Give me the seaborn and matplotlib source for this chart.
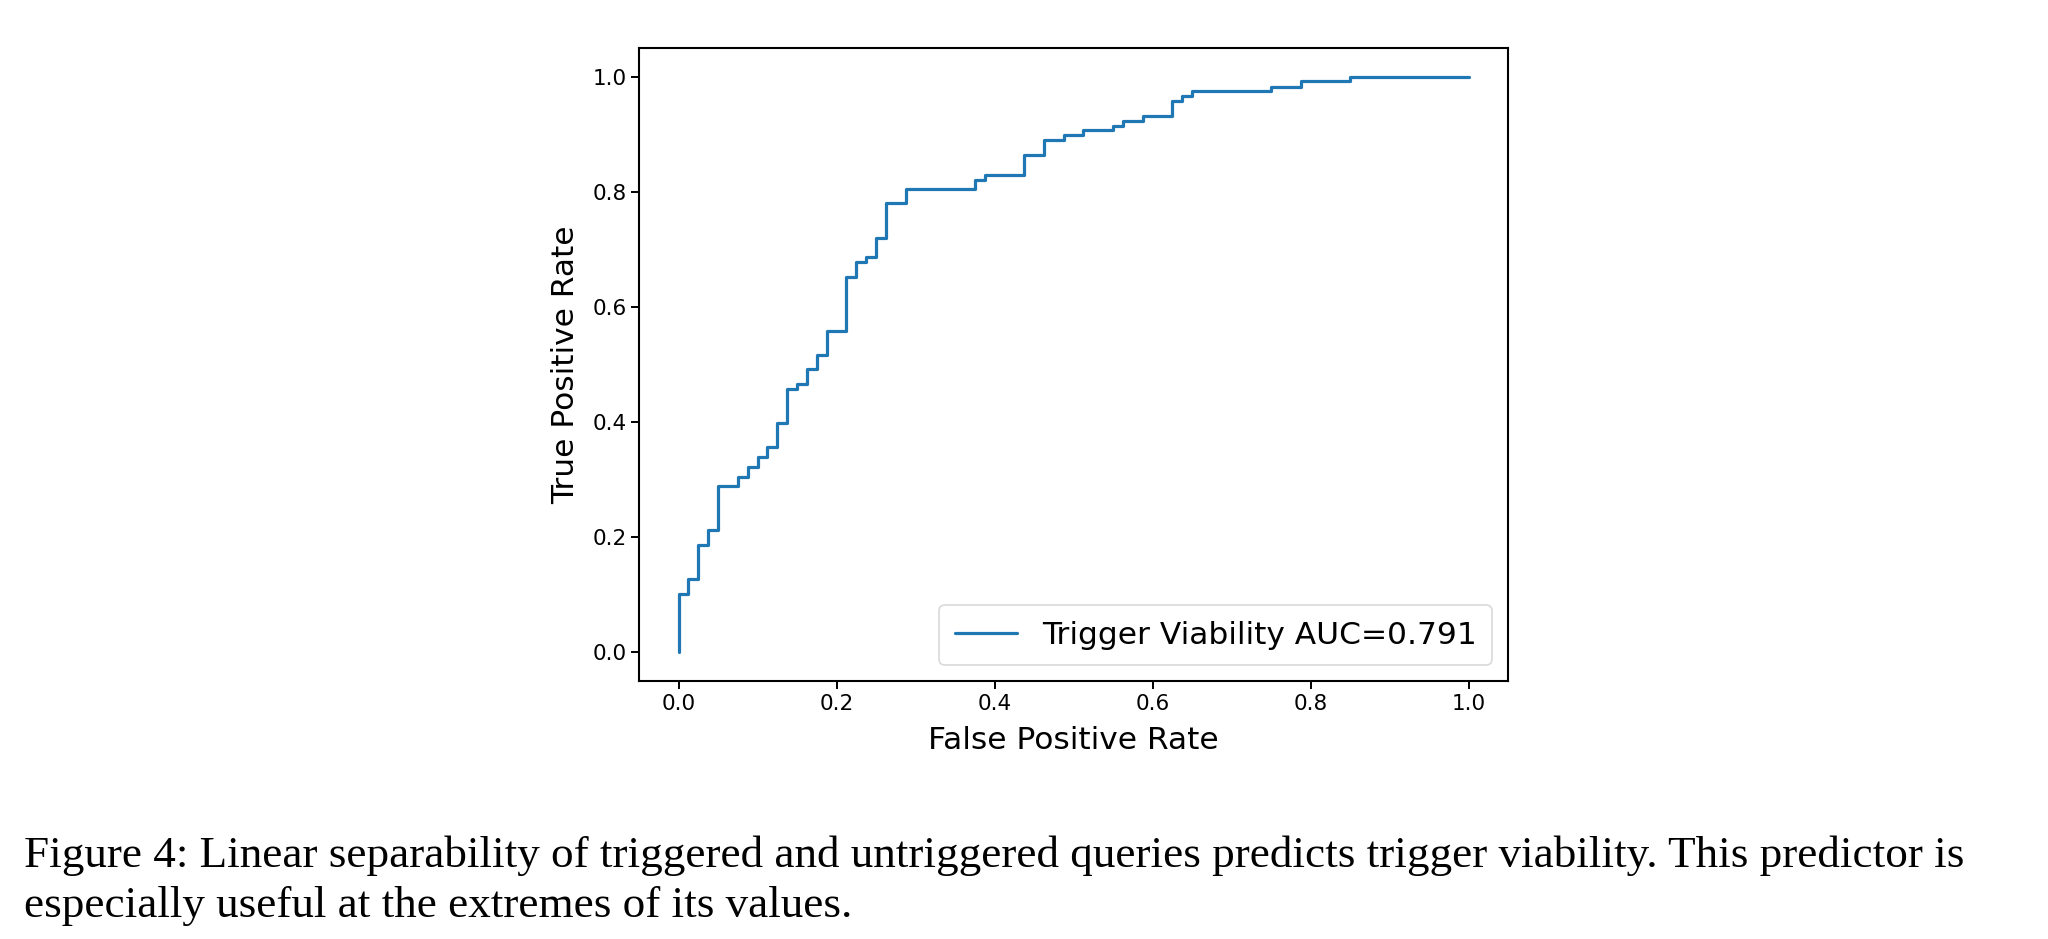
import matplotlib
matplotlib.use("Agg")
import matplotlib.pyplot as plt
import seaborn as sns
import pandas as pd

# ROC curve corner points
fpr = [0.0, 0.0, 0.0125, 0.0125, 0.025, 0.025, 0.0375, 0.0375, 0.05, 0.05,
       0.075, 0.075, 0.0875, 0.0875, 0.1, 0.1, 0.1125, 0.1125, 0.125, 0.125,
       0.1375, 0.1375, 0.15, 0.15, 0.1625, 0.1625, 0.175, 0.175, 0.1875, 0.1875,
       0.2125, 0.2125, 0.225, 0.225, 0.2375, 0.2375, 0.25, 0.25, 0.2625, 0.2625,
       0.2875, 0.2875, 0.375, 0.375, 0.3875, 0.3875, 0.4375, 0.4375, 0.4625, 0.4625,
       0.4875, 0.4875, 0.5125, 0.5125, 0.55, 0.55, 0.5625, 0.5625, 0.5875, 0.5875,
       0.625, 0.625, 0.6375, 0.6375, 0.65, 0.65, 0.75, 0.75, 0.7875, 0.7875,
       0.85, 0.85, 1.0]
tpr = [0.0, 0.101, 0.101, 0.127, 0.127, 0.186, 0.186, 0.212, 0.212, 0.288,
       0.288, 0.305, 0.305, 0.322, 0.322, 0.339, 0.339, 0.356, 0.356, 0.398,
       0.398, 0.457, 0.457, 0.466, 0.466, 0.492, 0.492, 0.516, 0.516, 0.559,
       0.559, 0.652, 0.652, 0.678, 0.678, 0.686, 0.686, 0.720, 0.720, 0.780,
       0.780, 0.805, 0.805, 0.820, 0.820, 0.830, 0.830, 0.864, 0.864, 0.890,
       0.890, 0.898, 0.898, 0.907, 0.907, 0.915, 0.915, 0.924, 0.924, 0.932,
       0.932, 0.958, 0.958, 0.966, 0.966, 0.975, 0.975, 0.983, 0.983, 0.992,
       0.992, 1.0, 1.0]
series_label = "Trigger Viability AUC=0.791"
x_ticks = [0.0, 0.2, 0.4, 0.6, 0.8, 1.0]
y_ticks = [0.0, 0.2, 0.4, 0.6, 0.8, 1.0]
x_label = "False Positive Rate"
y_label = "True Positive Rate"
caption_lines = [
    "Figure 4: Linear separability of triggered and untriggered queries predicts trigger viability. This predictor is",
    "especially useful at the extremes of its values.",
]

sns.set_theme(style="ticks", rc={
    "axes.edgecolor": "black",
    "axes.linewidth": 1.5,
    "xtick.color": "black",
    "ytick.color": "black",
    "text.color": "black",
    "axes.labelcolor": "black",
    "xtick.major.size": 5.5,
    "ytick.major.size": 5.5,
    "xtick.major.width": 1.4,
    "ytick.major.width": 1.4,
})
plt.rcParams["font.family"] = ["DejaVu Sans"]

df = pd.DataFrame({"fpr": fpr, "tpr": tpr, "series": series_label})

fig = plt.figure(figsize=(20.48, 9.39), dpi=100)
ax = fig.add_axes([639 / 2048, 1 - 681 / 939, (1508 - 639) / 2048, (681 - 48) / 939])
sns.lineplot(data=df, x="fpr", y="tpr", hue="series", sort=False, estimator=None,
             palette=["#1f77b4"], linewidth=2.3, ax=ax)

ax.set_xlim(-0.05, 1.05)
ax.set_ylim(-0.05, 1.05)
ax.set_xticks(x_ticks)
ax.set_yticks(y_ticks)
ax.set_xticklabels([f"{t:.1f}" for t in x_ticks])
ax.set_yticklabels([f"{t:.1f}" for t in y_ticks])
ax.tick_params(labelsize=15.5)
ax.set_xlabel(x_label, fontsize=22.5, labelpad=9)
ax.set_ylabel(y_label, fontsize=22.5, labelpad=9)
for s in ax.spines.values():
    s.set_visible(True)
    s.set_linewidth(1.5)
    s.set_color("black")

leg = ax.legend(loc="lower right", fontsize=22.5, frameon=True, fancybox=True,
                borderpad=0.5)
leg.get_frame().set_edgecolor("#d0d0d0")
leg.get_frame().set_linewidth(1.2)

fig.text(24 / 2048, 1 - 856 / 939, caption_lines[0], fontsize=32.5,
         family=["Liberation Serif"], va="center", ha="left")
fig.text(24 / 2048, 1 - 906 / 939, caption_lines[1], fontsize=32.5,
         family=["Liberation Serif"], va="center", ha="left")

fig.savefig("out.png", dpi=100, facecolor="white")
